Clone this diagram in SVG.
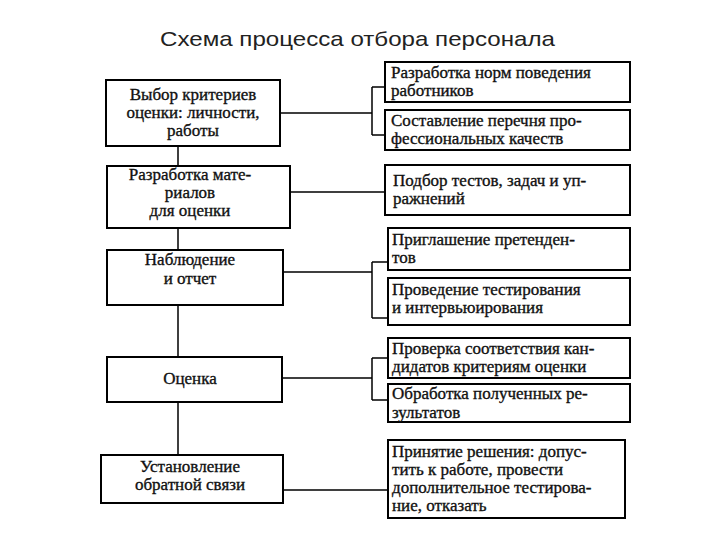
<svg xmlns="http://www.w3.org/2000/svg" width="720" height="540" viewBox="0 0 720 540">
<style>
.b{fill:#fff;stroke:#000;stroke-width:2}
.t{font-size:17px;fill:#111;stroke:#111;stroke-width:0.35}
.c{text-anchor:middle}
.l{fill:none;stroke:#000;stroke-width:1.5}
</style>
<rect width="720" height="540" fill="#fff"/>
<text x="160" y="46" font-family="Liberation Sans, sans-serif" font-size="21" textLength="395" lengthAdjust="spacingAndGlyphs" fill="#222">Схема процесса отбора персонала</text>
<g id="connectors">
<path class="l" d="M178 146V455M280 113H372M372 87V135M372 87H385M372 135H385M290 192H385M283 272H372M372 262V318M372 262H388M372 318H388M282 378H372M372 358V400M372 358H388M372 400H388M283 490H388"/>
</g>
<g font-family="Liberation Serif, Times New Roman, serif">
<g id="n1"><rect class="b" x="106" y="80" width="174" height="66"/><text class="t c" x="193" y="100">Выбор критериев</text><text class="t c" x="193" y="118">оценки: личности,</text><text class="t c" x="193" y="136">работы</text></g>
<g id="n2"><rect class="b" x="107" y="166" width="183" height="62"/><text class="t c" x="190" y="180">Разработка мате-</text><text class="t c" x="190" y="198">риалов</text><text class="t c" x="190" y="216">для оценки</text></g>
<g id="n3"><rect class="b" x="107" y="250" width="176" height="55"/><text class="t c" x="190" y="265">Наблюдение</text><text class="t c" x="190" y="284">и отчет</text></g>
<g id="n4"><rect class="b" x="107" y="357" width="175" height="45"/><text class="t c" x="190" y="384">Оценка</text></g>
<g id="n5"><rect class="b" x="101" y="455" width="182" height="48"/><text class="t c" x="190" y="472">Установление</text><text class="t c" x="190" y="490">обратной связи</text></g>
<g id="r1"><rect class="b" x="385" y="62" width="245" height="40"/><text class="t" x="391" y="78">Разработка норм поведения</text><text class="t" x="391" y="96">работников</text></g>
<g id="r2"><rect class="b" x="385" y="110" width="245" height="40"/><text class="t" x="391" y="126">Составление перечня про-</text><text class="t" x="391" y="144">фессиональных качеств</text></g>
<g id="r3"><rect class="b" x="385" y="165" width="245" height="50"/><text class="t" x="393" y="186">Подбор тестов, задач и уп-</text><text class="t" x="393" y="204">ражнений</text></g>
<g id="r4"><rect class="b" x="388" y="228" width="242" height="42"/><text class="t" x="392" y="245">Приглашение претенден-</text><text class="t" x="392" y="263">тов</text></g>
<g id="r5"><rect class="b" x="388" y="278" width="242" height="47"/><text class="t" x="392" y="295">Проведение тестирования</text><text class="t" x="392" y="313">и интервьюирования</text></g>
<g id="r6"><rect class="b" x="388" y="338" width="242" height="40"/><text class="t" x="392" y="354">Проверка соответствия кан-</text><text class="t" x="392" y="372">дидатов критериям оценки</text></g>
<g id="r7"><rect class="b" x="388" y="384" width="242" height="38"/><text class="t" x="392" y="399">Обработка полученных ре-</text><text class="t" x="392" y="418">зультатов</text></g>
<g id="r8"><rect class="b" x="388" y="440" width="237" height="78"/><text class="t" x="392" y="457">Принятие решения: допус-</text><text class="t" x="392" y="475">тить к работе, провести</text><text class="t" x="392" y="493">дополнительное тестирова-</text><text class="t" x="392" y="511">ние, отказать</text></g>
</g>
</svg>
